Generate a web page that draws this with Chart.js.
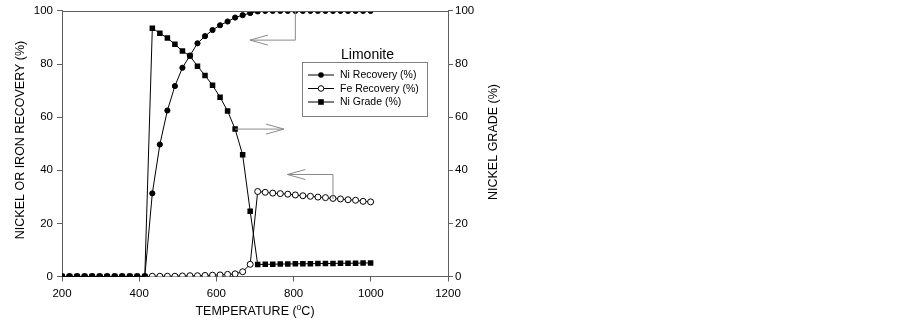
<!DOCTYPE html>
<html><head><meta charset="utf-8">
<script src="https://cdn.jsdelivr.net/npm/chart.js@4.4.1/dist/chart.umd.min.js"></script>
<style>html,body{margin:0;padding:0;background:#fff;}#wrap{width:903px;height:325px;}</style>
</head><body><div id="wrap"><canvas id="c" width="903" height="325"></canvas></div>
<script>
// ---- data ----
const temperatures = [200, 219.5, 239, 258.5, 278, 297.5, 317, 336.5, 356, 375.5, 395, 414.5,
  434, 453.5, 473, 492.5, 512, 531.5, 551, 570.5, 590, 609.5, 629, 648.5, 668, 687.5,
  707, 726.5, 746, 765.5, 785, 804.5, 824, 843.5, 863, 882.5, 902, 921.5, 941, 960.5, 980, 999.5];
const niRecovery = [0,0,0,0,0,0,0,0,0,0,0,0,
  31.3, 49.7, 62.5, 71.7, 78.6, 83.2, 87.8, 90.5, 92.8, 94.6, 96.0, 97.5, 98.4, 99.2,
  99.8, 100, 100, 100, 100, 100, 100, 100, 100, 100, 100, 100, 100, 100, 100, 100];
const feRecovery = [0,0,0,0,0,0,0,0,0,0,0,0,
  0.1, 0.1, 0.1, 0.1, 0.2, 0.3, 0.3, 0.4, 0.5, 0.6, 0.8, 1.0, 1.8, 4.6,
  32.0, 31.7, 31.4, 31.2, 31.0, 30.7, 30.4, 30.2, 29.9, 29.7, 29.4, 29.2, 28.9, 28.7, 28.3, 28.1];
const niGrade = [0,0,0,0,0,0,0,0,0,0,0,0,
  93.5, 91.6, 89.8, 87.4, 84.9, 83.0, 79.2, 75.7, 72.0, 67.5, 62.3, 55.5, 45.8, 24.6,
  4.5, 4.6, 4.6, 4.7, 4.7, 4.8, 4.8, 4.8, 4.9, 4.9, 4.9, 5.0, 5.0, 5.0, 5.1, 5.1];
const xTicks = [200, 400, 600, 800, 1000, 1200];
const yTicks = [0, 20, 40, 60, 80, 100];
const seriesNames = ['Ni Recovery (%)', 'Fe Recovery (%)', 'Ni Grade (%)'];
const legendTitle = 'Limonite';
const xTitle = ['TEMPERATURE (', 'o', 'C)'];
const yTitle = 'NICKEL OR IRON RECOVERY (%)';
const y2Title = 'NICKEL GRADE (%)';
// annotation arrows in data units, head at the last point
const arrowLeftRec = [[804.5, 100], [804.5, 89], [687, 89]];
const arrowRightGrade = [[648.5, 55.5], [775, 55.5]];
const arrowLeftFe = [[902, 29.2], [902, 38.4], [784, 38.4]];

const FONT = '"Liberation Sans", Arial, sans-serif';
const AXIS = '#606060';
const pts = ys => temperatures.map((t, i) => ({x: t, y: ys[i]}));

const overlay = {
  id: 'overlay',
  afterDatasetsDraw(chart) {
    const {ctx, chartArea: a, scales} = chart;
    const xs = scales.x, ys = scales.y;
    ctx.save();
    ctx.strokeStyle = AXIS; ctx.lineWidth = 1;
    ctx.beginPath(); ctx.moveTo(a.left, Math.round(a.top) + 0.5); ctx.lineTo(a.right, Math.round(a.top) + 0.5); ctx.stroke();
    ctx.strokeStyle = '#8a8a8a';
    const drawArrow = (path) => {
      const p = path.map(([x, y]) => [xs.getPixelForValue(x), ys.getPixelForValue(y)]);
      ctx.beginPath();
      ctx.moveTo(p[0][0], p[0][1]);
      for (let i = 1; i < p.length; i++) ctx.lineTo(p[i][0], p[i][1]);
      ctx.stroke();
      const [tx, ty] = p[p.length - 1], [px] = p[p.length - 2];
      const dir = Math.sign(tx - px);
      ctx.beginPath();
      ctx.moveTo(tx - dir * 18, ty - 5); ctx.lineTo(tx, ty); ctx.lineTo(tx - dir * 18, ty + 5);
      ctx.stroke();
    };
    drawArrow(arrowLeftRec); drawArrow(arrowRightGrade); drawArrow(arrowLeftFe);
    ctx.restore();
  },
  afterDraw(chart) {
    const {ctx} = chart;
    ctx.save();
    ctx.fillStyle = '#000';
    ctx.font = '12.5px ' + FONT;
    ctx.textAlign = 'center'; ctx.textBaseline = 'middle';
    ctx.save(); ctx.translate(20.5, 140); ctx.rotate(-Math.PI / 2); ctx.fillText(yTitle, 0, 0); ctx.restore();
    ctx.save(); ctx.translate(493.5, 142); ctx.rotate(-Math.PI / 2); ctx.fillText(y2Title, 0, 0); ctx.restore();
    ctx.textBaseline = 'alphabetic'; ctx.textAlign = 'left';
    const big = '12.5px ' + FONT, small = '8.5px ' + FONT;
    ctx.font = big; const w1 = ctx.measureText(xTitle[0]).width, w3 = ctx.measureText(xTitle[2]).width;
    ctx.font = small; const w2 = ctx.measureText(xTitle[1]).width;
    const x0 = 255 - (w1 + w2 + w3) / 2;
    const by = 315;
    ctx.font = big; ctx.fillText(xTitle[0], x0, by);
    ctx.font = small; ctx.fillText(xTitle[1], x0 + w1, by - 5);
    ctx.font = big; ctx.fillText(xTitle[2], x0 + w1 + w2, by);
    // legend
    ctx.font = '14px ' + FONT; ctx.textAlign = 'center';
    ctx.fillText(legendTitle, 367.5, 58.5);
    ctx.strokeStyle = '#808080'; ctx.lineWidth = 1;
    ctx.strokeRect(302.5, 62.5, 125, 54);
    ctx.font = '10.5px ' + FONT; ctx.textAlign = 'left'; ctx.textBaseline = 'middle';
    const rows = [75, 88.5, 102];
    rows.forEach((ry, i) => {
      ctx.strokeStyle = '#000'; ctx.lineWidth = 1;
      ctx.beginPath(); ctx.moveTo(308, ry); ctx.lineTo(334, ry); ctx.stroke();
      const mx = 321;
      if (i === 0) { ctx.fillStyle = '#000'; ctx.beginPath(); ctx.arc(mx, ry, 2.8, 0, Math.PI * 2); ctx.fill(); }
      else if (i === 1) { ctx.fillStyle = '#fff'; ctx.beginPath(); ctx.arc(mx, ry, 2.8, 0, Math.PI * 2); ctx.fill(); ctx.stroke(); }
      else { ctx.fillStyle = '#000'; ctx.fillRect(mx - 2.8, ry - 2.8, 5.6, 5.6); }
      ctx.fillStyle = '#000';
      ctx.fillText(seriesNames[i], 340, ry + 0.5);
    });
    ctx.restore();
  }
};

const tickFont = {family: FONT, size: 11.5};
const plain = v => String(v);
new Chart(document.getElementById('c'), {
  type: 'line',
  data: {
    datasets: [
      {label: seriesNames[0], data: pts(niRecovery), yAxisID: 'y', order: 2,
       borderColor: '#000', borderWidth: 1, pointStyle: 'circle', pointRadius: 2.6,
       pointBackgroundColor: '#000', pointBorderColor: '#000', pointBorderWidth: 1},
      {label: seriesNames[1], data: pts(feRecovery), yAxisID: 'y', order: 3,
       borderColor: '#000', borderWidth: 1, pointStyle: 'circle', pointRadius: 3,
       pointBackgroundColor: '#fff', pointBorderColor: '#000', pointBorderWidth: 1},
      {label: seriesNames[2], data: pts(niGrade), yAxisID: 'y2', order: 1,
       borderColor: '#000', borderWidth: 1, pointStyle: 'rect', pointRadius: 3.9,
       pointBackgroundColor: '#000', pointBorderColor: '#000', pointBorderWidth: 0}
    ]
  },
  options: {
    responsive: false, animation: false, devicePixelRatio: 1,
    layout: {padding: {left: 0, top: 8, right: 425, bottom: 18.5}},
    plugins: {legend: {display: false}, tooltip: {enabled: false}},
    elements: {line: {tension: 0}},
    scales: {
      x: {type: 'linear', min: 200, max: 1200,
          afterBuildTicks: s => { s.ticks = xTicks.map(v => ({value: v})); },
          afterFit: s => { s.height = 30; },
          grid: {drawOnChartArea: false, tickLength: 5, color: AXIS},
          border: {color: AXIS},
          ticks: {color: '#000', font: tickFont, padding: 5, maxRotation: 0, callback: plain}},
      y: {position: 'left', min: 0, max: 100,
          afterBuildTicks: s => { s.ticks = yTicks.map(v => ({value: v})); },
          afterFit: s => { s.width = 62; },
          grid: {drawOnChartArea: false, tickLength: 5, color: AXIS},
          border: {color: AXIS},
          ticks: {color: '#000', font: tickFont, padding: 4, callback: plain}},
      y2: {position: 'right', min: 0, max: 100,
          afterBuildTicks: s => { s.ticks = yTicks.map(v => ({value: v})); },
          afterFit: s => { s.width = 30; },
          grid: {drawOnChartArea: false, tickLength: 5, color: AXIS},
          border: {color: AXIS},
          ticks: {color: '#000', font: tickFont, padding: 2, callback: plain}}
    }
  },
  plugins: [overlay]
});
</script>
</body></html>
